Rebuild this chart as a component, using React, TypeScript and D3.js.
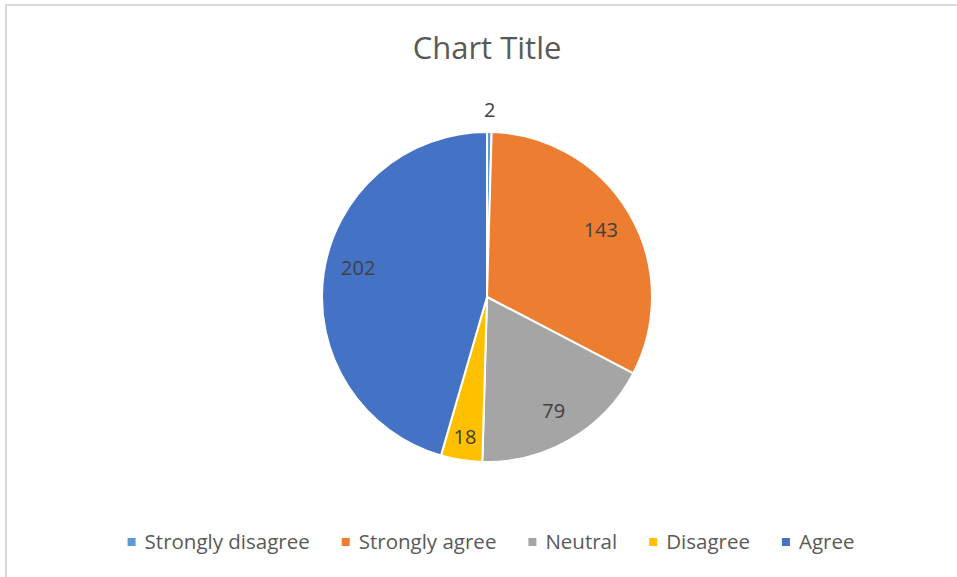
import React, { useEffect, useRef } from "react";
import * as d3 from "d3";

const categories = ["Strongly disagree", "Strongly agree", "Neutral", "Disagree", "Agree"];
const values = [2, 143, 79, 18, 202];
const colors = ["#5B9BD5", "#ED7D31", "#A5A5A5", "#FFC000", "#4472C4"];
const title = "Chart Title";

const W = 957;
const H = 577;
const FONT = "'Open Sans', 'Noto Sans', sans-serif";

export default function App() {
  const ref = useRef<SVGSVGElement | null>(null);

  useEffect(() => {
    const svg = d3.select(ref.current);
    svg.selectAll("*").remove();

    svg.append("rect").attr("x", 0).attr("y", 0).attr("width", W).attr("height", H).attr("fill", "#fff");
    svg
      .append("rect")
      .attr("x", 6)
      .attr("y", 5)
      .attr("width", W + 20)
      .attr("height", H + 20)
      .attr("fill", "none")
      .attr("stroke", "#d9d9d9")
      .attr("stroke-width", 2);

    svg
      .append("text")
      .attr("x", 487)
      .attr("y", 59)
      .attr("text-anchor", "middle")
      .attr("font-family", FONT)
      .attr("font-size", 31)
      .attr("fill", "#595959")
      .text(title);

    const cx = 487;
    const cy = 297;
    const r = 165;
    const total = d3.sum(values);

    const pie = d3.pie<number>().sort(null).value((d) => d);
    const arcs = pie(values);
    const arc = d3.arc<d3.PieArcDatum<number>>().innerRadius(0).outerRadius(r);

    const g = svg.append("g").attr("transform", `translate(${cx},${cy})`);
    g.selectAll("path")
      .data(arcs)
      .join("path")
      .attr("d", arc as any)
      .attr("fill", (_d, i) => colors[i])
      .attr("stroke", "#fff")
      .attr("stroke-width", 2)
      .attr("stroke-linejoin", "round");

    g.selectAll("text.lbl")
      .data(arcs)
      .join("text")
      .attr("class", "lbl")
      .attr("transform", (d) => {
        const frac = d.value / total;
        const lr = frac < 0.01 ? r + 22 : frac < 0.06 ? r * 0.86 : r * 0.8;
        let la = (d.startAngle + d.endAngle) / 2;
        if (frac > 0.4) la += 0.08;
        return `translate(${lr * Math.sin(la)},${-lr * Math.cos(la)})`;
      })
      .attr("text-anchor", "middle")
      .attr("dy", "0.35em")
      .attr("font-family", FONT)
      .attr("font-size", 20)
      .attr("fill", "#404040")
      .text((d) => String(d.value));

    // legend
    const lg = svg.append("g");
    const items = lg
      .selectAll("g.item")
      .data(categories)
      .join("g")
      .attr("class", "item");
    items
      .append("rect")
      .attr("width", 8)
      .attr("height", 8)
      .attr("y", -4)
      .attr("fill", (_d, i) => colors[i]);
    const texts = items
      .append("text")
      .attr("x", 17)
      .attr("dy", "0.35em")
      .attr("font-family", FONT)
      .attr("font-size", 20.5)
      .attr("fill", "#595959")
      .text((d) => d);
    const widths: number[] = [];
    texts.each(function () {
      widths.push((this as SVGTextElement).getComputedTextLength());
    });
    const gap = 32;
    const itemW = widths.map((w) => 17 + w);
    const totalW = d3.sum(itemW) + gap * (categories.length - 1);
    let x0 = 491 - totalW / 2;
    const xs: number[] = [];
    itemW.forEach((w) => {
      xs.push(x0);
      x0 += w + gap;
    });
    items.attr("transform", (_d, i) => `translate(${xs[i]},${542})`);
  }, []);

  return (
    <svg
      ref={ref}
      width={W}
      height={H}
      style={{ position: "absolute", left: 0, top: 0, display: "block" }}
    />
  );
}
